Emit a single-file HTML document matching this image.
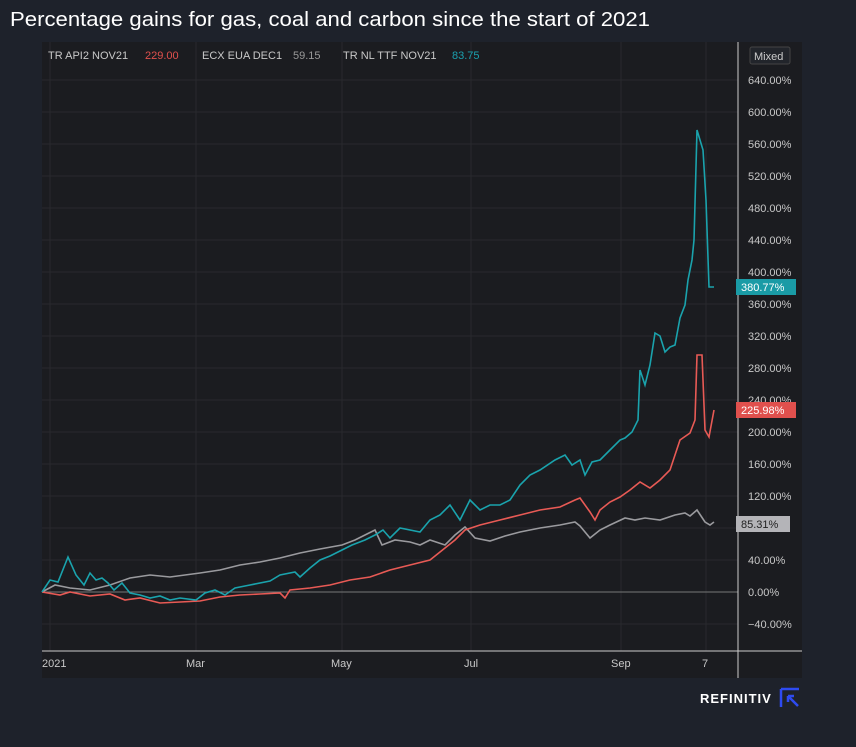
<!DOCTYPE html>
<html><head><style>
body{margin:0;background:#1e222b;width:856px;height:742px;overflow:hidden;font-family:"Liberation Sans",sans-serif}
</style></head><body>
<svg width="856" height="742" xmlns="http://www.w3.org/2000/svg" font-family="Liberation Sans, sans-serif">
<rect width="856" height="742" fill="#1e222b"/>
<text x="10" y="26" fill="#ffffff" font-size="20" textLength="640" lengthAdjust="spacingAndGlyphs">Percentage gains for gas, coal and carbon since the start of 2021</text>
<rect x="42" y="42" width="760" height="636" fill="#1b1c20"/>
<g stroke="#28292e" stroke-width="1">
<line x1="42" x2="738" y1="80" y2="80"/><line x1="42" x2="738" y1="112" y2="112"/><line x1="42" x2="738" y1="144" y2="144"/><line x1="42" x2="738" y1="176" y2="176"/><line x1="42" x2="738" y1="208" y2="208"/><line x1="42" x2="738" y1="240" y2="240"/><line x1="42" x2="738" y1="272" y2="272"/><line x1="42" x2="738" y1="304" y2="304"/><line x1="42" x2="738" y1="336" y2="336"/><line x1="42" x2="738" y1="368" y2="368"/><line x1="42" x2="738" y1="400" y2="400"/><line x1="42" x2="738" y1="432" y2="432"/><line x1="42" x2="738" y1="464" y2="464"/><line x1="42" x2="738" y1="496" y2="496"/><line x1="42" x2="738" y1="528" y2="528"/><line x1="42" x2="738" y1="560" y2="560"/><line x1="42" x2="738" y1="624" y2="624"/>
<line x1="50" x2="50" y1="42" y2="651"/><line x1="196" x2="196" y1="42" y2="651"/><line x1="342" x2="342" y1="42" y2="651"/><line x1="471" x2="471" y1="42" y2="651"/><line x1="621" x2="621" y1="42" y2="651"/><line x1="706" x2="706" y1="42" y2="651"/>
</g>
<line x1="42" x2="738" y1="592" y2="592" stroke="#777" stroke-width="1"/>
<line x1="42" x2="802" y1="651" y2="651" stroke="#ccc" stroke-width="1"/>
<line x1="738" x2="738" y1="42" y2="678" stroke="#ccc" stroke-width="1"/>
<g fill="#c8c8c8" font-size="11">
<text x="48" y="59">TR API2 NOV21</text><text x="145" y="59" fill="#e0504d">229.00</text>
<text x="202" y="59">ECX EUA DEC1</text><text x="293" y="59" fill="#999">59.15</text>
<text x="343" y="59">TR NL TTF NOV21</text><text x="452" y="59" fill="#1aa0ae">83.75</text>
</g>
<rect x="750" y="47" width="40" height="17" rx="2" fill="#22252b" stroke="#444"/>
<text x="754" y="60" fill="#ccc" font-size="11">Mixed</text>
<g fill="#c8c8c8" font-size="11">
<text x="748" y="84">640.00%</text><text x="748" y="116">600.00%</text><text x="748" y="148">560.00%</text><text x="748" y="180">520.00%</text><text x="748" y="212">480.00%</text><text x="748" y="244">440.00%</text><text x="748" y="276">400.00%</text><text x="748" y="308">360.00%</text><text x="748" y="340">320.00%</text><text x="748" y="372">280.00%</text><text x="748" y="404">240.00%</text><text x="748" y="436">200.00%</text><text x="748" y="468">160.00%</text><text x="748" y="500">120.00%</text><text x="748" y="564">40.00%</text><text x="748" y="596">0.00%</text><text x="748" y="628">−40.00%</text>
<text x="42" y="667">2021</text><text x="186" y="667">Mar</text><text x="331" y="667">May</text><text x="464" y="667">Jul</text><text x="611" y="667">Sep</text><text x="702" y="667">7</text>
</g>
<polyline fill="none" stroke="#9a9a9e" stroke-width="1.6" points="42,592 55,585 70,588 90,590 110,585 130,578 150,575 170,577 200,573 220,570 240,565 260,562 280,558 300,553 320,549 342,545 355,540 365,535 375,530 382,545 395,540 410,542 420,545 430,540 445,545 455,535 465,527 475,538 490,541 505,536 520,532 540,528 560,525 575,522 580,526 590,538 600,530 610,525 625,518 635,520 645,518 660,520 675,515 685,513 690,516 697,510 705,522 710,525 714,522"/>
<polyline fill="none" stroke="#e85a55" stroke-width="1.6" points="42,592 60,595 70,592 90,596 110,594 125,600 140,598 160,603 180,602 200,601 220,597 240,595 260,594 280,593 285,598 290,590 310,588 330,585 350,580 370,577 390,570 410,565 430,560 445,548 455,540 465,530 480,525 500,520 520,515 540,510 560,507 575,500 580,498 590,512 595,520 600,510 610,502 620,497 630,490 640,482 650,488 660,480 670,470 680,440 690,433 695,420 697,355 702,355 705,430 709,437 714,410"/>
<polyline fill="none" stroke="#1aa3ad" stroke-width="1.6" points="42,592 50,580 58,582 68,557 76,575 84,585 90,573 96,580 102,578 108,583 114,590 122,583 130,593 140,595 150,598 160,596 170,600 180,598 196,600 205,593 215,590 225,595 235,588 250,585 270,581 280,575 295,572 300,577 310,568 320,560 330,556 342,550 352,545 365,540 375,535 383,530 390,538 400,528 420,532 430,520 440,515 450,505 460,520 470,500 480,510 490,505 500,505 510,500 520,485 530,475 540,470 555,460 565,455 572,465 580,460 585,475 592,462 600,460 610,450 620,440 625,438 632,432 638,420 640,370 645,385 650,365 655,333 660,336 665,352 670,347 675,345 680,318 685,305 688,280 692,260 694,240 697,130 700,140 703,150 706,200 709,287 714,287"/>
<rect x="736" y="279" width="60" height="16" fill="#1a9ba6"/><text x="741" y="291" fill="#fff" font-size="11">380.77%</text>
<rect x="736" y="402" width="60" height="16" fill="#e0504d"/><text x="741" y="414" fill="#fff" font-size="11">225.98%</text>
<rect x="736" y="516" width="54" height="16" fill="#b4b4b8"/><text x="741" y="528" fill="#222" font-size="11">85.31%</text>
<text x="700" y="703" fill="#fff" font-size="13" font-weight="bold" letter-spacing="1">REFINITIV</text>
<path d="M781 689 h18 M781 689 v18 M788 696 l10 10 M788 696 h6 M788 696 v6" stroke="#2e4bf0" stroke-width="2.5" fill="none"/>
</svg>
</body></html>
